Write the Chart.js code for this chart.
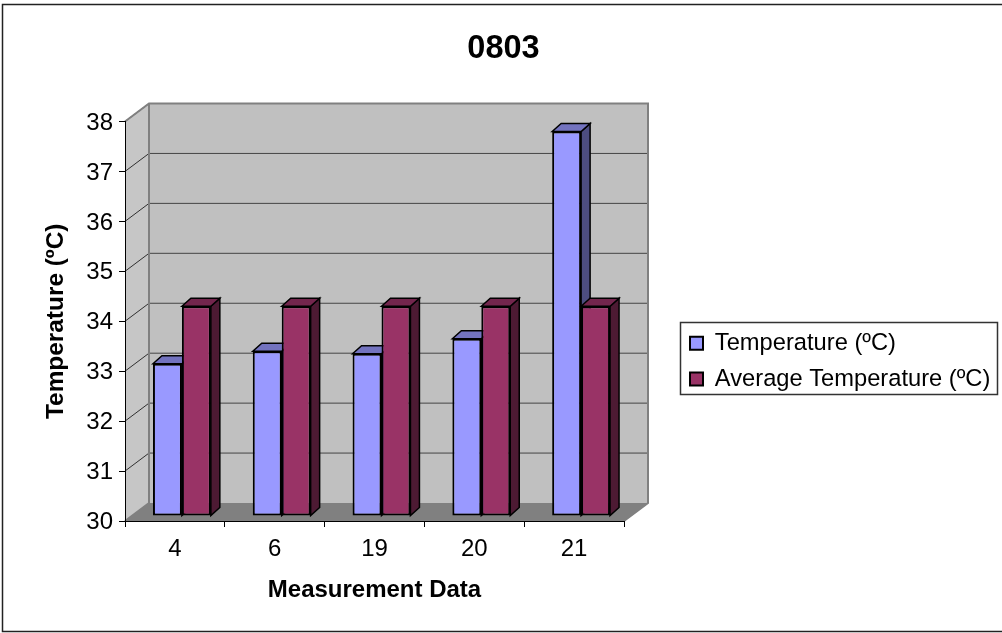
<!DOCTYPE html>
<html>
<head>
<meta charset="utf-8">
<title>0803</title>
<script src="https://cdn.jsdelivr.net/npm/chart.js@4"></script>
<style>
  html, body { margin: 0; padding: 0; background: #fff; }
  #wrap { width: 1002px; height: 633px; }
</style>
</head>
<body>
<div id="wrap"><canvas id="chart" width="1002" height="633"></canvas></div>
<script>
const categories = ["4", "6", "19", "20", "21"];
const temperature = [33.05, 33.3, 33.25, 33.55, 37.7];
const average = [34.2, 34.2, 34.2, 34.2, 34.2];
const yMin = 30, yMax = 38;

const FONT = "'Liberation Sans', Arial, sans-serif";

// depth of the floor/walls, and of the bars inside it
const wallDx = 24, wallDy = -18;
const barShiftX = 7, barShiftY = -5;
const barDx = 9, barDy = -8;

function poly(ctx, pts, fill, stroke, width) {
  ctx.beginPath();
  pts.forEach((p, i) => i ? ctx.lineTo(p[0], p[1]) : ctx.moveTo(p[0], p[1]));
  ctx.closePath();
  if (fill) { ctx.fillStyle = fill; ctx.fill(); }
  if (stroke) { ctx.strokeStyle = stroke; ctx.lineWidth = width; ctx.stroke(); }
}

// outer frame, legend box, walls, floor and gridlines go under the axes
const backdrop = {
  id: "backdrop",
  beforeDraw(chart) {
    const ctx = chart.ctx;
    const { left, right, top, bottom } = chart.chartArea;
    const yScale = chart.scales.y;

    ctx.save();
    ctx.fillStyle = "#fff";
    ctx.fillRect(0, 0, chart.width, chart.height);
    ctx.strokeStyle = "#222";
    ctx.lineWidth = 1.5;
    ctx.beginPath();
    ctx.moveTo(chart.width + 2, 4.5);
    ctx.lineTo(2.5, 4.5);
    ctx.lineTo(2.5, 631.5);
    ctx.lineTo(chart.width + 2, 631.5);
    ctx.stroke();

    poly(ctx, [[680.5, 322.5], [997.5, 322.5], [997.5, 394.5], [680.5, 394.5]], "#fff", "#333", 1.5);

    const bx = left + wallDx, tY = top + wallDy, bY = bottom + wallDy, rx = right + wallDx;
    poly(ctx, [[bx, tY], [rx, tY], [rx, bY], [bx, bY]], "#c0c0c0");
    poly(ctx, [[left, top], [bx, tY], [bx, bY], [left, bottom]], "#c6c6c6");
    poly(ctx, [[left, bottom], [bx, bY], [rx, bY], [right, bottom]], "#808080");

    yScale.ticks.forEach(t => {
      if (t.value === yScale.min) return;
      const y = yScale.getPixelForValue(t.value);
      ctx.lineWidth = 1;
      ctx.strokeStyle = "#303030";
      ctx.beginPath();
      ctx.moveTo(left, y);
      ctx.lineTo(bx, y + wallDy);
      ctx.stroke();
      if (t.value === yScale.max) return;
      ctx.strokeStyle = "#444";
      ctx.lineWidth = 1;
      ctx.beginPath();
      ctx.moveTo(bx, y + wallDy);
      ctx.lineTo(rx, y + wallDy);
      ctx.stroke();
    });

    ctx.strokeStyle = "#808080";
    ctx.lineWidth = 2;
    ctx.beginPath();
    ctx.moveTo(left, top);
    ctx.lineTo(bx, tY);
    ctx.lineTo(rx, tY);
    ctx.lineTo(rx, bY);
    ctx.lineTo(right, bottom);
    ctx.moveTo(bx, tY);
    ctx.lineTo(bx, bY);
    ctx.moveTo(left, bottom);
    ctx.lineTo(bx, bY);
    ctx.stroke();
    ctx.restore();
  }
};

// tops and sides of the bars, then the bars themselves shifted into the box
const bars3d = {
  id: "bars3d",
  beforeDatasetsDraw(chart) {
    const ctx = chart.ctx;
    ctx.save();
    ctx.translate(barShiftX, barShiftY);
    chart.data.datasets.forEach((ds, i) => {
      chart.getDatasetMeta(i).data.forEach(bar => {
        const l = bar.x - bar.width / 2, r = bar.x + bar.width / 2;
        const t = bar.y, b = bar.base;
        poly(ctx, [[r, t], [r + barDx, t + barDy], [r + barDx, b + barDy], [r, b]], ds.sideColor, "#000", 1.5);
        poly(ctx, [[l, t], [l + barDx, t + barDy], [r + barDx, t + barDy], [r, t]], ds.topColor, "#000", 1.5);
      });
    });
  },
  afterDatasetsDraw(chart) {
    chart.ctx.restore();
  }
};

// the title centres on the whole canvas, the legend sits right of the plot
const placeBoxes = {
  id: "placeBoxes",
  afterLayout(chart) {
    chart.titleBlock.left = 5;
    chart.titleBlock.right = chart.width;
    const l = chart.legend;
    l.left = 678;
    l.right = 997;
    l.top = 319.5;
    l.bottom = 500;
  }
};

new Chart(document.getElementById("chart"), {
  type: "bar",
  data: {
    labels: categories,
    datasets: [
      {
        label: "Temperature (ºC)",
        data: temperature,
        base: yMin,
        backgroundColor: "#9999ff",
        sideColor: "#4d4d80",
        topColor: "#7373bf",
        borderColor: "#000",
        borderWidth: 2,
        borderSkipped: false,
      },
      {
        label: "Average Temperature (ºC)",
        data: average,
        base: yMin,
        backgroundColor: "#993366",
        sideColor: "#4d1a33",
        topColor: "#73264d",
        borderColor: "#000",
        borderWidth: 2,
        borderSkipped: false,
      },
    ],
  },
  options: {
    responsive: false,
    animation: false,
    clip: false,
    devicePixelRatio: 1,
    categoryPercentage: 0.58,
    barPercentage: 1,
    layout: { padding: { left: 0, top: 0, right: 378, bottom: 0 } },
    plugins: {
      title: {
        display: true,
        text: "0803",
        color: "#000",
        font: { family: FONT, size: 32.5, weight: "bold" },
        padding: { top: 30, bottom: 52.5 },
      },
      legend: {
        position: "chartArea",
        align: "start",
        labels: {
          color: "#000",
          font: { family: FONT, size: 23.7 },
          boxWidth: 13,
          boxHeight: 13,
          padding: 12,
        },
      },
      tooltip: { enabled: false },
    },
    scales: {
      x: {
        afterFit: s => { s.height = 112; },
        grid: { drawOnChartArea: false, color: "#000", tickLength: 6 },
        border: { color: "#000", width: 1 },
        ticks: { color: "#000", font: { family: FONT, size: 24 }, padding: 8, maxRotation: 0 },
        title: {
          display: true,
          text: "Measurement Data",
          color: "#000",
          font: { family: FONT, size: 24, weight: "bold" },
          padding: { top: 28.5, bottom: 28.5 },
        },
      },
      y: {
        min: yMin,
        max: yMax,
        afterFit: s => { s.width = 125; },
        grid: { drawOnChartArea: false, color: "#000", tickLength: 6 },
        border: { color: "#000", width: 1 },
        ticks: { color: "#000", font: { family: FONT, size: 24 }, padding: 6, stepSize: 1, labelOffset: 1.5 },
        title: {
          display: true,
          text: "Temperature (ºC)",
          color: "#000",
          font: { family: FONT, size: 24.4, weight: "bold" },
          padding: { top: 42, bottom: 42 },
        },
      },
    },
  },
  plugins: [backdrop, bars3d, placeBoxes],
});
</script>
</body>
</html>
